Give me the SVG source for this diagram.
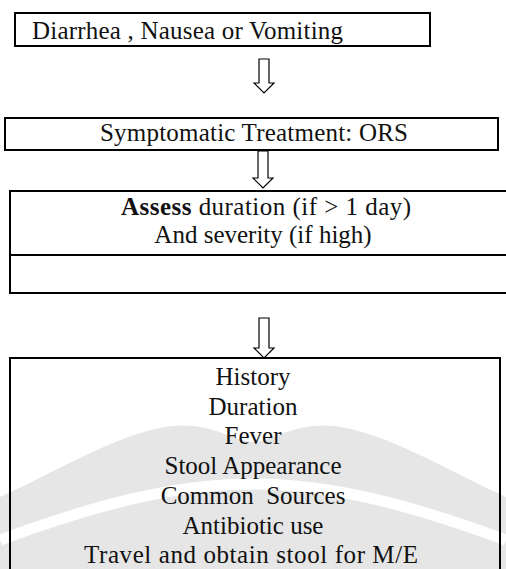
<svg xmlns="http://www.w3.org/2000/svg" width="506" height="569" viewBox="0 0 506 569">
<style>
.box{fill:none;stroke:#000;stroke-width:2}
.arr{fill:#fff;stroke:#000;stroke-width:1.2;stroke-linejoin:miter}
.c{text-anchor:middle}
</style>
<rect width="506" height="569" fill="#fff"/>
<g id="watermark">
<path d="M0,497 C60,470 120,432 172,426 C212,422 235,442 253,442 C271,442 294,422 334,426 C386,432 446,470 506,497 L506,569 L0,569 Z" fill="#e6e6e6"/>
<path d="M0,540 C90,507 170,484 253,484 C336,484 416,507 506,540" fill="none" stroke="#fff" stroke-width="11"/>
</g>
<g id="connectors">
<path class="arr" d="M259,59 H269 V83 H274 L264,93 L254,83 H259 Z"/>
<path class="arr" d="M258,151 H268 V178 H273 L263,188 L253,178 H258 Z"/>
<path class="arr" d="M259,318 H269 V348 H274 L264,358 L254,348 H259 Z"/>
</g>
<g font-family="Liberation Serif, Times New Roman, serif" font-size="25" fill="#111">
<g id="node1">
<rect class="box" x="15" y="13" width="415" height="33"/>
<text x="32" y="39" textLength="311" lengthAdjust="spacing">Diarrhea , Nausea or Vomiting</text>
</g>
<g id="node2">
<rect class="box" x="5" y="118" width="493" height="32"/>
<text class="c" x="254" y="141" textLength="308" lengthAdjust="spacing">Symptomatic Treatment: ORS</text>
</g>
<g id="node3">
<path class="box" d="M520,191 H10 V293 H520 M10,255 H520"/>
<text class="c" x="266" y="215" textLength="290" lengthAdjust="spacing"><tspan font-weight="bold">Assess</tspan> duration (if &gt; 1 day)</text>
<text class="c" x="263" y="243">And severity (if high)</text>
</g>
<g id="node4">
<path class="box" d="M10,580 V358 H500 V580"/>
<text class="c" x="253" y="385">History</text>
<text class="c" x="253" y="414.7">Duration</text>
<text class="c" x="253" y="444.4">Fever</text>
<text class="c" x="253" y="474">Stool Appearance</text>
<text class="c" x="253" y="503.8" xml:space="preserve">Common  Sources</text>
<text class="c" x="253" y="533.5">Antibiotic use</text>
<text class="c" x="251" y="563" textLength="334" lengthAdjust="spacing">Travel and obtain stool for M/E</text>
</g>
</g>
</svg>
